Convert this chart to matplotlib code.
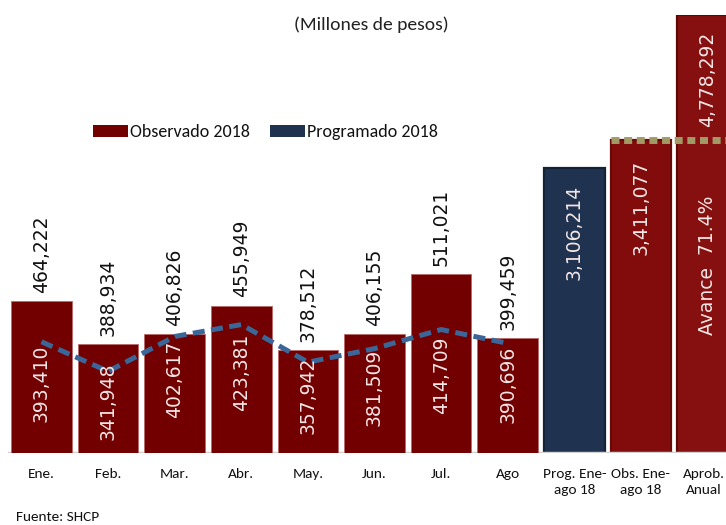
import numpy as np
import matplotlib
matplotlib.use('Agg')
import matplotlib.pyplot as plt
import matplotlib.transforms as mtransforms
from matplotlib.patches import Patch

# ---------------- data ----------------
months = ['Ene.', 'Feb.', 'Mar.', 'Abr.', 'May.', 'Jun.', 'Jul.', 'Ago']
observado = [464222, 388934, 406826, 455949, 378512, 406155, 511021, 399459]
programado = [393410, 341948, 402617, 423381, 357942, 381509, 414709, 390696]
cum_labels = ['Prog. Ene-\nago 18', 'Obs. Ene-\nago 18', 'Aprob.\nAnual']
cum_values = [3106214, 3411077, 4778292]
avance_pct = 71.4

# ---------------- style ----------------
NARROW = ['Carlito', 'Lato', 'DejaVu Sans']
NUM = ['DejaVu Sans']
RED_M = '#720000'
RED_C = '#820C0C'
NAVY = '#1F3250'
BLUE_LINE = '#3B6698'
OLIVE = '#A29A66'
WHITE_TXT = '#f2e6e6'
NUM_FS = 13.5

W, H = 726, 525
fig = plt.figure(figsize=(W / 100, H / 100), dpi=100)
slot = 66.6
left = 8.2 / W
width = slot * 11 / W
bottom = (H - 453) / H
height = 438 / H
ax = fig.add_axes([left, bottom, width, height])
ax2 = ax.twinx()

bw = 0.91
x_m = np.arange(len(months))
x_c = np.arange(len(months), len(months) + len(cum_values))

ax.set_xlim(-0.5, 10.5)
ax.set_ylim(0, 4780000)
y2min, y2max = 200000, 961700
ax2.set_ylim(y2min, y2max)

# monthly bars (secondary scale)
ax2.bar(x_m, observado, width=bw, color=RED_M, edgecolor='#b86a6a', linewidth=0.6, zorder=2)
ax2.plot(x_m, programado, color=BLUE_LINE, lw=3.6, ls=(0, (2.4, 1.3)),
         solid_capstyle='butt', dash_capstyle='butt', zorder=3)

for xi, v in zip(x_m, observado):
    ax2.annotate(f'{v:,}', (xi, v), xytext=(0, 6), textcoords='offset points',
                 rotation=90, ha='center', va='bottom', fontsize=NUM_FS,
                 family=NUM, color='#111111')
for xi, v in zip(x_m, programado):
    ypos = y2min + 0.63 * (v - y2min)
    ax2.text(xi, ypos, f'{v:,}', rotation=90, ha='center', va='center',
             fontsize=NUM_FS, family=NUM, color=WHITE_TXT, zorder=4)

# cumulative bars (primary scale)
cum_colors = [NAVY, RED_C, '#86100F']
cum_edges = ['#142238', '#6a0808', '#5e0707']
ax.bar(x_c, cum_values, width=bw, color=cum_colors, edgecolor=cum_edges, linewidth=1.6, zorder=2)
offs = [-12, -14, -12]
for xi, v, o in zip(x_c, cum_values, offs):
    ax.annotate(f'{v:,}', (xi, v), xytext=(0, o), textcoords='offset points',
                rotation=90, ha='center', va='top', fontsize=NUM_FS,
                family=NUM, color=WHITE_TXT, zorder=4)

# achieved line at observed cumulative level
ax.hlines(cum_values[1], x_c[1] - bw / 2, x_c[2] + 0.6, colors=OLIVE, lw=5,
          linestyles=(0, (1.15, 0.67)), zorder=3)

trans = mtransforms.blended_transform_factory(ax.transData, ax.transAxes)
ax.text(x_c[2], 0.27, f'Avance  {avance_pct:.1f}%', transform=trans, rotation=90,
        ha='center', va='bottom', fontsize=NUM_FS, family=NUM, color=WHITE_TXT, zorder=4)

# axes cosmetics
for a in (ax, ax2):
    for s in a.spines.values():
        s.set_visible(False)
    a.set_yticks([])
ax.axhline(0, color='#d0d0d0', lw=2.5, zorder=5)
ax.set_xticks(list(x_m) + list(x_c))
ax.set_xticklabels(months + cum_labels, fontsize=11, family=NARROW, va='top',
                   linespacing=1.4, color='#111111')
ax.tick_params(axis='x', length=0, pad=11)
last = ax.get_xticklabels()[-1]
last.set_transform(last.get_transform() + mtransforms.ScaledTranslation(-4 / 100, 0, fig.dpi_scale_trans))

# legend
handles = [Patch(facecolor=RED_M, edgecolor='none'), Patch(facecolor=NAVY, edgecolor='none')]
fig.legend(handles, ['Observado 2018', 'Programado 2018'], loc='center left',
           bbox_to_anchor=(77 / W, 1 - 132 / H), ncol=2, frameon=False,
           prop={'family': NARROW, 'size': 13}, handlelength=1.95, handleheight=0.65,
           handletextpad=0.1, columnspacing=1.1, labelcolor='#111111')

fig.text(371 / W, 1 - 25 / H, '(Millones de pesos)', ha='center', va='center',
         fontsize=14, family=NARROW, color='#222222')
fig.text(16 / W, 1 - 517 / H, 'Fuente: SHCP', ha='left', va='center',
         fontsize=11, family=NARROW, color='#111111')

fig.savefig('out.png', dpi=100)
